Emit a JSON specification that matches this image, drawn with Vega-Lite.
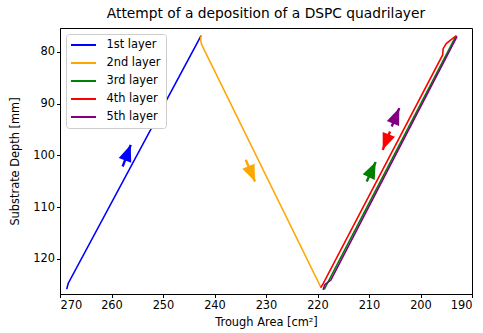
{
  "$schema": "https://vega.github.io/schema/vega-lite/v6.json",
  "width": 412,
  "height": 266,
  "autosize": {"type": "none"},
  "padding": {"left": 60, "top": 28, "right": 11, "bottom": 39},
  "background": "white",
  "title": {"text": "Attempt of a deposition of a DSPC quadrilayer", "font": "DejaVu Sans", "fontSize": 13.8, "fontWeight": "normal", "color": "#000000", "offset": 7},
  "config": {
    "view": {"stroke": "#000000", "strokeWidth": 1},
    "axis": {"labelFont": "DejaVu Sans", "labelFontSize": 11.4, "labelColor": "#000000", "titleFont": "DejaVu Sans", "titleFontSize": 11.4, "titleFontWeight": "normal", "titleColor": "#000000", "domainColor": "#000000", "tickColor": "#000000", "tickSize": 3.5, "grid": false, "labelPadding": 2},
    "legend": {"labelFont": "DejaVu Sans", "labelFontSize": 11.4, "labelColor": "#000000"}
  },
  "datasets": {
    "lines": [
      {"layer": "1st layer", "i": 0, "area": 268.7, "depth": 125.86},
      {"layer": "1st layer", "i": 1, "area": 268.39, "depth": 124.71},
      {"layer": "1st layer", "i": 2, "area": 242.6, "depth": 76.85},
      {"layer": "2nd layer", "i": 0, "area": 242.6, "depth": 76.85},
      {"layer": "2nd layer", "i": 1, "area": 242.7, "depth": 77.7},
      {"layer": "2nd layer", "i": 2, "area": 242.5, "depth": 78.6},
      {"layer": "2nd layer", "i": 3, "area": 219.4, "depth": 125.4},
      {"layer": "3rd layer", "i": 0, "area": 218.7, "depth": 125.9},
      {"layer": "3rd layer", "i": 1, "area": 193.1, "depth": 76.9},
      {"layer": "4th layer", "i": 0, "area": 219.4, "depth": 125.6},
      {"layer": "4th layer", "i": 1, "area": 218.9, "depth": 124.8},
      {"layer": "4th layer", "i": 2, "area": 195.7, "depth": 80.6},
      {"layer": "4th layer", "i": 3, "area": 195.6, "depth": 79.4},
      {"layer": "4th layer", "i": 4, "area": 195.0, "depth": 78.4},
      {"layer": "4th layer", "i": 5, "area": 194.0, "depth": 77.6},
      {"layer": "4th layer", "i": 6, "area": 193.0, "depth": 76.9},
      {"layer": "5th layer", "i": 0, "area": 218.9, "depth": 126.0},
      {"layer": "5th layer", "i": 1, "area": 218.6, "depth": 125.0},
      {"layer": "5th layer", "i": 2, "area": 217.4, "depth": 124.1},
      {"layer": "5th layer", "i": 3, "area": 192.9, "depth": 77.0}
    ],
    "arrows": [
      {"layer": "1st layer", "tailArea": 257.83, "tailDepth": 102.16, "tipArea": 256.27, "tipDepth": 97.97, "angle": 20.2},
      {"layer": "2nd layer", "tailArea": 233.94, "tailDepth": 100.87, "tipArea": 232.14, "tipDepth": 105.06, "angle": 156.8},
      {"layer": "3rd layer", "tailArea": 210.45, "tailDepth": 105.06, "tipArea": 208.7, "tipDepth": 101.31, "angle": 24.9},
      {"layer": "4th layer", "tailArea": 205.92, "tailDepth": 95.4, "tipArea": 207.34, "tipDepth": 98.94, "angle": 201.7},
      {"layer": "5th layer", "tailArea": 205.59, "tailDepth": 94.43, "tipArea": 204.12, "tipDepth": 90.88, "angle": 22.4}
    ]
  },
  "layer": [
    {
      "data": {"name": "lines"},
      "mark": {"type": "line", "strokeWidth": 1.6, "clip": true},
      "encoding": {
        "x": {"field": "area", "type": "quantitative", "scale": {"domain": [190, 270], "reverse": true, "nice": false, "zero": false}, "axis": {"values": [270, 260, 250, 240, 230, 220, 210, 200, 190], "title": "Trough Area [cm²]", "titlePadding": 6}},
        "y": {"field": "depth", "type": "quantitative", "scale": {"domain": [75.4, 126.8], "reverse": true, "nice": false, "zero": false}, "axis": {"values": [80, 90, 100, 110, 120], "title": "Substrate Depth [mm]", "titlePadding": 12}},
        "color": {"field": "layer", "type": "nominal", "scale": {"domain": ["1st layer", "2nd layer", "3rd layer", "4th layer", "5th layer"], "range": ["#0000ff", "#ffa500", "#008000", "#ff0000", "#800080"]},
          "legend": {"title": null, "orient": "top-left", "offset": 6, "padding": 5, "fillColor": "white", "strokeColor": "#cccccc", "cornerRadius": 3, "symbolType": "M-2.5,0H2.5", "symbolSize": 100, "symbolStrokeWidth": 2, "symbolOffset": 6.5, "labelOffset": 17, "rowPadding": 6}},
        "order": {"field": "i", "type": "quantitative"}
      }
    },
    {
      "data": {"name": "arrows"},
      "mark": {"type": "rule", "strokeWidth": 2.4},
      "encoding": {
        "x": {"field": "tailArea", "type": "quantitative"},
        "y": {"field": "tailDepth", "type": "quantitative"},
        "x2": {"field": "tipArea"},
        "y2": {"field": "tipDepth"},
        "color": {"field": "layer", "type": "nominal", "legend": null}
      }
    },
    {
      "data": {"name": "arrows"},
      "mark": {"type": "point", "filled": true, "opacity": 1, "strokeWidth": 0, "shape": "M0,0L0.4,1L-0.4,1Z", "size": 1100},
      "encoding": {
        "x": {"field": "tipArea", "type": "quantitative"},
        "y": {"field": "tipDepth", "type": "quantitative"},
        "angle": {"field": "angle", "type": "quantitative", "scale": null},
        "color": {"field": "layer", "type": "nominal", "legend": null}
      }
    }
  ]
}
